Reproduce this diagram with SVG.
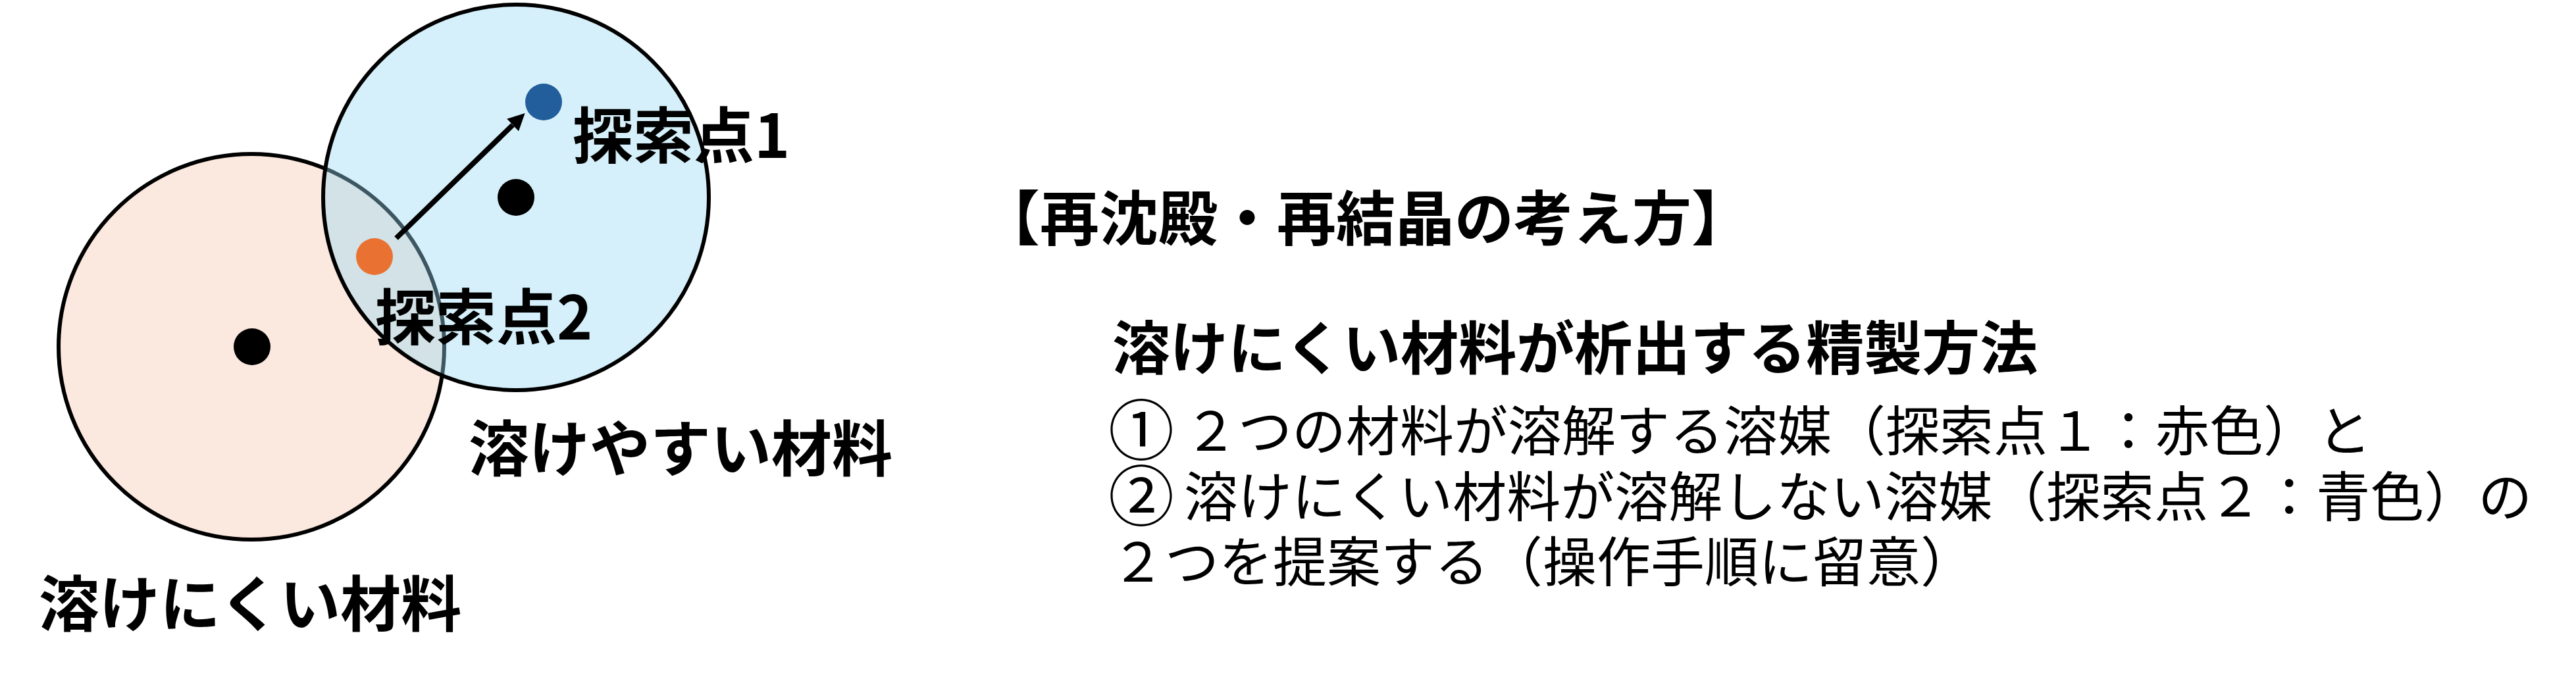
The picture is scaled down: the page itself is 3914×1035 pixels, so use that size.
<svg xmlns="http://www.w3.org/2000/svg" width="3914" height="1035" viewBox="0 0 3914 1035">
<style>
.bold{font-family:"Noto Sans CJK JP","Noto Sans CJK SC",sans-serif;font-weight:bold;fill:#000}
.reg{font-family:"Noto Sans CJK JP","Noto Sans CJK SC",sans-serif;font-weight:normal;fill:#000}
.num{font-size:100px}
.ring{stroke:#000;stroke-width:6}
.center{fill:#000}
</style>
<defs>
<marker id="head" markerUnits="userSpaceOnUse" markerWidth="26" markerHeight="26" refX="0" refY="13" orient="auto" viewBox="0 0 26 26">
<path d="M0,0 L26,13 L0,26 z" fill="#000"/>
</marker>
</defs>
<rect width="3914" height="1035" fill="#fff"/>
<g id="hard-material">
<circle class="ring" cx="382" cy="527" r="293" fill="#FBE8DE"/>
<circle class="center" cx="383" cy="527" r="28"/>
</g>
<g id="easy-material">
<circle class="ring" cx="784" cy="300" r="293" fill="#96DAF2" fill-opacity="0.4"/>
<circle class="center" cx="784" cy="300" r="28"/>
</g>
<g id="point1">
<circle cx="826" cy="155" r="28" fill="#225E9C"/>
<text class="bold" x="870" y="240" font-size="92">探索点1</text>
</g>
<g id="point2">
<circle cx="569" cy="390" r="28" fill="#E97233"/>
<text class="bold" x="570" y="516" font-size="92">探索点2</text>
</g>
<g id="connectors">
<line x1="602" y1="362" x2="779" y2="190" stroke="#000" stroke-width="8" marker-end="url(#head)"/>
</g>
<g id="labels">
<text class="bold" x="712" y="716" font-size="92">溶けやすい材料</text>
<text class="bold" x="59" y="952" font-size="92">溶けにくい材料</text>
</g>
<g id="explanation">
<text class="bold" x="1490" y="365" font-size="90">【再沈殿・再結晶の考え方】</text>
<text class="bold" x="1690" y="561" font-size="88">溶けにくい材料が析出する精製方法</text>
<text class="reg" font-size="82"><tspan class="num" x="1684" y="691">①</tspan><tspan x="1799" y="685">２つの材料が溶解する溶媒（探索点１：赤色）と</tspan></text>
<text class="reg" font-size="82"><tspan class="num" x="1684" y="791">②</tspan><tspan x="1799" y="785">溶けにくい材料が溶解しない溶媒（探索点２：青色）の</tspan></text>
<text class="reg" x="1688" y="884" font-size="82">２つを提案する（操作手順に留意）</text>
</g>
</svg>
